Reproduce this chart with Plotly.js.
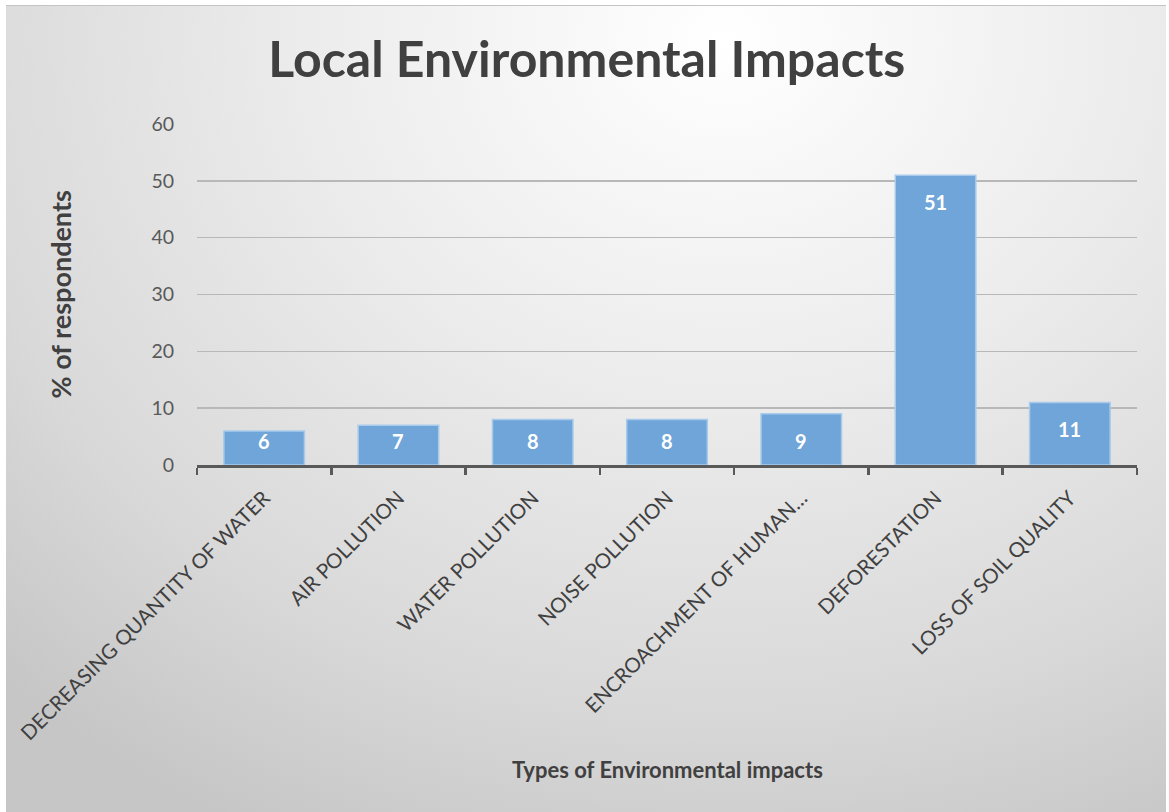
<!DOCTYPE html>
<html><head><meta charset="utf-8">
<script src="https://cdn.plot.ly/plotly-3.0.1.min.js"></script>
<style>
html,body{margin:0;padding:0;width:1169px;height:812px;overflow:hidden;background:#ffffff;position:relative;}
#bg{position:absolute;left:6px;top:5px;width:1160px;height:807px;border-top:1px solid #c4c4c4;box-sizing:border-box;
    background:radial-gradient(ellipse 90% 110% at 62% 4%, #ffffff 0%, #ececec 40%, #d9d9d9 75%, #c6c6c6 100%);}
#chart{position:absolute;left:0;top:0;width:1169px;height:812px;}
</style></head>
<body><div id="bg"></div><div id="chart"></div>
<script>
const categories = ["DECREASING QUANTITY OF WATER","AIR POLLUTION","WATER POLLUTION","NOISE POLLUTION","ENCROACHMENT OF HUMAN…","DEFORESTATION","LOSS OF SOIL QUALITY"];
const values = [6,7,8,8,9,51,11];
const yTicks = [0,10,20,30,40,50,60];

const plotTop = 124, plotBottom = 465, yMax = 60;
const pxPerUnit = (plotBottom - plotTop) / yMax;
const FONT = 'Lato, Carlito, sans-serif';

const trace = {
  type: 'bar', x: categories, y: values,
  marker: {color: '#6fa5d8', line: {color: '#a9cbeb', width: 1.5}},
  hoverinfo: 'x+y', width: 0.6
};

const annotations = categories.map((c, i) => ({
  x: c, y: values[i], xref: 'x', yref: 'y',
  text: '<b>' + values[i] + '</b>', showarrow: false,
  yanchor: 'middle', yshift: -Math.min(27, values[i] * pxPerUnit - 24),
  font: {family: FONT, size: 20, color: '#ffffff'}
}));

annotations.push({
  text: '<b>Types of Environmental impacts</b>', xref: 'paper', yref: 'paper',
  x: 0.5, y: 0, yshift: -304, showarrow: false, yanchor: 'middle',
  font: {family: FONT, size: 22, color: '#404040'}
});
annotations.push({
  text: '<b>% of respondents</b>', xref: 'paper', yref: 'paper',
  x: 0, y: 0.5, xshift: -137, yshift: 0, showarrow: false, textangle: -90,
  xanchor: 'center', yanchor: 'middle',
  font: {family: FONT, size: 27, color: '#404040'}
});

const layout = {
  width: 1169, height: 812,
  paper_bgcolor: 'rgba(0,0,0,0)', plot_bgcolor: 'rgba(0,0,0,0)',
  margin: {l: 197, r: 32, t: plotTop, b: 812 - plotBottom},
  title: {text: '<b>Local Environmental Impacts</b>', x: 0.502, xanchor: 'center', y: 0.927, yanchor: 'middle',
          font: {family: FONT, size: 50, color: '#404040'}},
  showlegend: false,
  bargap: 0.4,
  xaxis: {
    type: 'category', tickangle: -45, showgrid: false,
    showline: true, linecolor: '#595959', linewidth: 3,
    ticks: 'outside', tickson: 'boundaries', ticklen: 7, tickwidth: 2.5, tickcolor: '#595959',
    ticklabelstandoff: 10,
    tickfont: {family: FONT, size: 20.5, color: '#404040'},
    automargin: false
  },
  yaxis: {
    range: [0, yMax], tickvals: yTicks, ticktext: yTicks.map(String),
    showgrid: true, gridcolor: '#b8b8b8', gridwidth: 1.5, zeroline: false,
    showline: false, ticks: '', ticklabelstandoff: 22,
    tickfont: {family: FONT, size: 19.5, color: '#595959'},
    automargin: false
  },
  annotations: annotations
};

Plotly.newPlot('chart', [trace], layout, {displayModeBar: false, staticPlot: true});
</script>
</body></html>
